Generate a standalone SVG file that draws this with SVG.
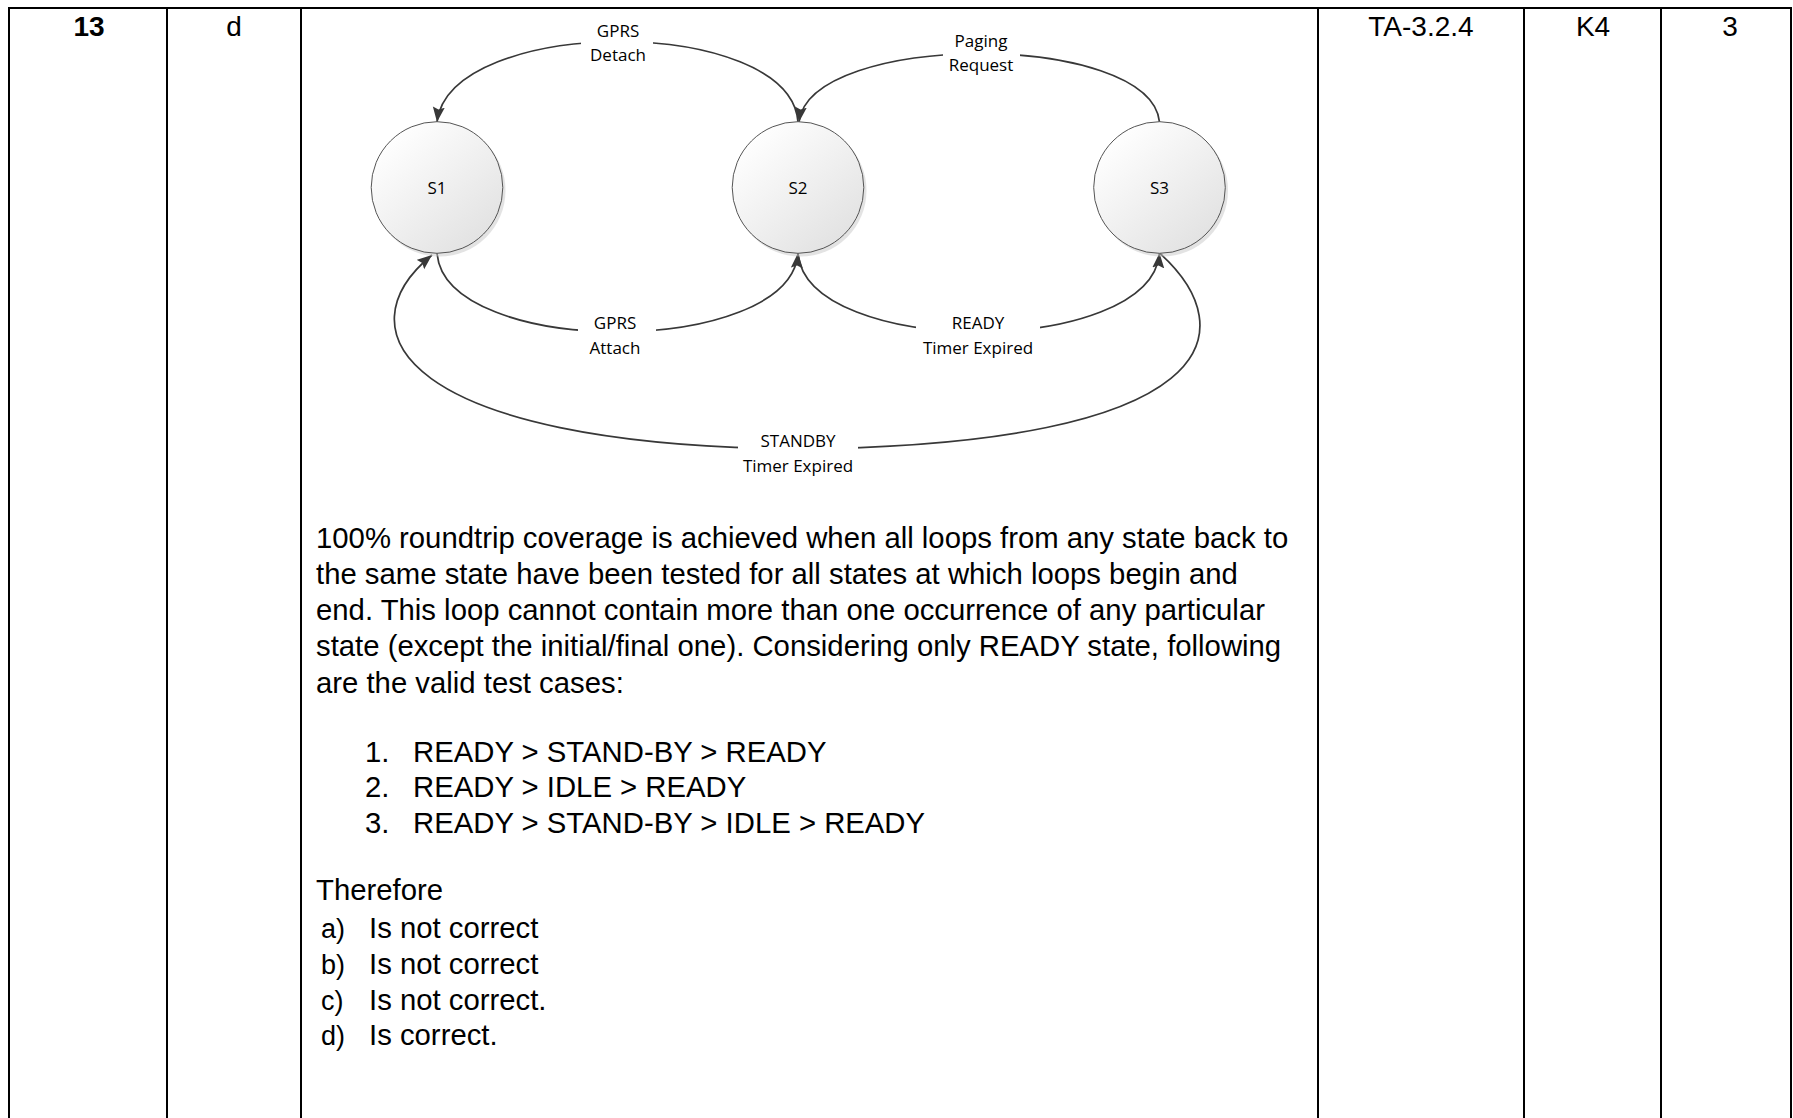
<svg xmlns="http://www.w3.org/2000/svg" width="1793" height="1118" viewBox="0 0 1793 1118">
<style>
.tbl{stroke:#000;stroke-width:2;fill:none}
.hd{font-family:"Liberation Sans",Arial,sans-serif;font-size:28px;fill:#000;text-anchor:middle}
.bd{font-family:"Liberation Sans",Arial,sans-serif;font-size:29.3px;fill:#000}
.ol{font-family:"Liberation Sans",Arial,sans-serif;font-size:27px;fill:#000}
.st{stroke:#555;stroke-width:1;fill:url(#cg)}
.sh{fill:#c8c8c8;opacity:0.5}
.sl{font-family:"Open Sans","Noto Sans",sans-serif;font-size:17px;fill:#000;text-anchor:middle}
.cn{stroke:#383838;stroke-width:1.7;fill:none;marker-end:url(#ah)}
.cn2{stroke:#383838;stroke-width:1.7;fill:none}
.lb{fill:#fff}
</style>
<defs>
<linearGradient id="cg" x1="0.15" y1="0.1" x2="0.85" y2="0.9">
<stop offset="0" stop-color="#ffffff"/>
<stop offset="1" stop-color="#e2e2e2"/>
</linearGradient>
<marker id="ah" markerUnits="userSpaceOnUse" markerWidth="16" markerHeight="13" refX="15" refY="6" orient="auto">
<path d="M0,0 L15,6 L0,12 L2.5,6 z" fill="#383838"/>
</marker>
</defs>
<rect width="1793" height="1118" fill="#fff"/>
<g id="table">
<line class="tbl" x1="8" y1="8" x2="1792" y2="8" stroke-width="2.5"/>
<line class="tbl" x1="9" y1="8" x2="9" y2="1118"/>
<line class="tbl" x1="167" y1="8" x2="167" y2="1118"/>
<line class="tbl" x1="301" y1="8" x2="301" y2="1118"/>
<line class="tbl" x1="1318" y1="8" x2="1318" y2="1118"/>
<line class="tbl" x1="1524" y1="8" x2="1524" y2="1118"/>
<line class="tbl" x1="1661" y1="8" x2="1661" y2="1118"/>
<line class="tbl" x1="1791" y1="8" x2="1791" y2="1118"/>
<text class="hd" x="89" y="36" font-weight="bold">13</text>
<text class="hd" x="234" y="36">d</text>
<text class="hd" x="1421" y="36">TA-3.2.4</text>
<text class="hd" x="1593" y="36">K4</text>
<text class="hd" x="1730" y="36">3</text>
</g>
<g id="connectors">
<path class="cn" d="M798,122 C790,15 450,15 437,122"/>
<path class="cn" d="M1159.5,122 C1150,31 810,31 799,122"/>
<path class="cn" d="M437,253 C445,358 790,358 798,253"/>
<path class="cn" d="M798,253 C806,358 1151,358 1159.5,253"/>
<path class="cn2" d="M1159.5,253 C1245,330 1225,445 798,449"/>
<path class="cn" d="M798,449 C400,445 340,330 432,255"/>
<rect class="lb" x="581" y="16" width="72" height="52"/>
<text class="sl" x="618" y="37">GPRS</text>
<text class="sl" x="618" y="61">Detach</text>
<rect class="lb" x="943" y="26" width="77" height="52"/>
<text class="sl" x="981" y="47">Paging</text>
<text class="sl" x="981" y="71">Request</text>
<rect class="lb" x="578" y="308" width="78" height="52"/>
<text class="sl" x="615" y="329">GPRS</text>
<text class="sl" x="615" y="354">Attach</text>
<rect class="lb" x="916" y="308" width="124" height="52"/>
<text class="sl" x="978" y="329">READY</text>
<text class="sl" x="978" y="354">Timer Expired</text>
<rect class="lb" x="738" y="426" width="120" height="52"/>
<text class="sl" x="798" y="447">STANDBY</text>
<text class="sl" x="798" y="472">Timer Expired</text>
</g>
<g id="S1">
<circle class="sh" cx="439.5" cy="190.5" r="66"/>
<circle class="st" cx="437" cy="187.5" r="65.8"/>
<text class="sl" x="437" y="194">S1</text>
</g>
<g id="S2">
<circle class="sh" cx="800.5" cy="190.5" r="66"/>
<circle class="st" cx="798" cy="187.5" r="65.8"/>
<text class="sl" x="798" y="194">S2</text>
</g>
<g id="S3">
<circle class="sh" cx="1162" cy="190.5" r="66"/>
<circle class="st" cx="1159.5" cy="187.5" r="65.8"/>
<text class="sl" x="1159.5" y="194">S3</text>
</g>
<g id="body">
<text class="bd" x="316" y="547.5">100% roundtrip coverage is achieved when all loops from any state back to</text>
<text class="bd" x="316" y="583.8">the same state have been tested for all states at which loops begin and</text>
<text class="bd" x="316" y="620.1">end. This loop cannot contain more than one occurrence of any particular</text>
<text class="bd" x="316" y="656.4">state (except the initial/final one). Considering only READY state, following</text>
<text class="bd" x="316" y="692.7">are the valid test cases:</text>
<text class="bd" x="365" y="761.5">1.</text>
<text class="bd" x="413" y="761.5">READY &gt; STAND-BY &gt; READY</text>
<text class="bd" x="365" y="797">2.</text>
<text class="bd" x="413" y="797">READY &gt; IDLE &gt; READY</text>
<text class="bd" x="365" y="832.5">3.</text>
<text class="bd" x="413" y="832.5">READY &gt; STAND-BY &gt; IDLE &gt; READY</text>
<text class="bd" x="316" y="900">Therefore</text>
<text class="ol" x="321" y="937.5">a)</text>
<text class="bd" x="369" y="937.5">Is not correct</text>
<text class="ol" x="321" y="973.5">b)</text>
<text class="bd" x="369" y="973.5">Is not correct</text>
<text class="ol" x="321" y="1009.5">c)</text>
<text class="bd" x="369" y="1009.5">Is not correct.</text>
<text class="ol" x="321" y="1045">d)</text>
<text class="bd" x="369" y="1045">Is correct.</text>
</g>
</svg>
